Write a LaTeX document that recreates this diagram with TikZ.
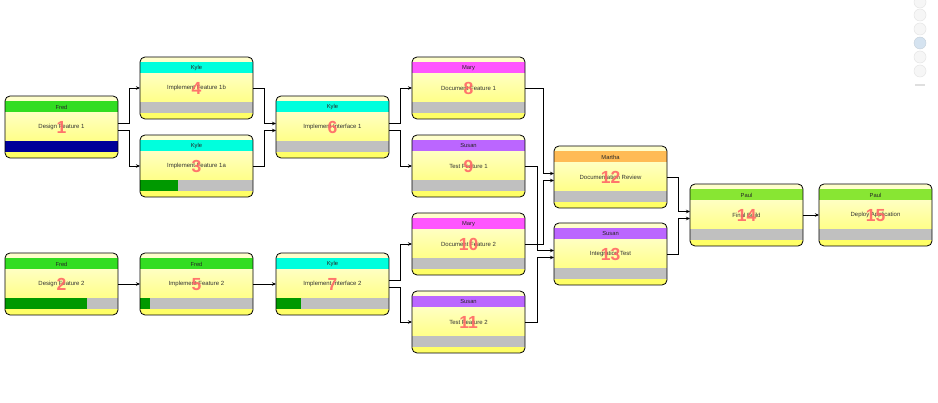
\documentclass[tikz,border=0pt]{standalone}
\usepackage{fontspec}
\setmainfont{Liberation Sans}
\usetikzlibrary{arrows.meta}
\definecolor{fred}{HTML}{33DD22}
\definecolor{kyle}{HTML}{00FFDD}
\definecolor{mary}{HTML}{FF55FF}
\definecolor{susan}{HTML}{BB66FF}
\definecolor{martha}{HTML}{FFBB55}
\definecolor{paul}{HTML}{88E633}
\definecolor{barg}{HTML}{C0C0C0}
\definecolor{proggreen}{HTML}{009900}
\definecolor{progblue}{HTML}{000099}
\definecolor{topyel}{HTML}{FFFFCC}
\definecolor{bodytop}{HTML}{FFFFC0}
\definecolor{bodybot}{HTML}{FFFF88}
\definecolor{botyel}{HTML}{FFFF66}
\definecolor{numred}{HTML}{FF6666}
\definecolor{dotblue}{HTML}{D5E3F0}
\tikzset{
  taskbox/.style={draw=black, line width=0.8pt, rounded corners=5pt, minimum width=113pt,
    minimum height=62pt, inner sep=0pt, outer sep=0pt, anchor=north west},
  conn/.style={draw=black, line width=0.7pt, -{Stealth[length=4pt,width=3.5pt]}},
  who/.style={font=\fontsize{5.8}{6}\selectfont, text=black!85, inner sep=0pt},
  what/.style={font=\fontsize{6}{6}\selectfont, text=black!80, inner sep=0pt},
  num/.style={font=\fontsize{17.5}{18}\selectfont\bfseries, text=numred, inner sep=0pt, opacity=0.9},
  dot/.style={fill=gray!7, draw=gray!20, line width=0.5pt},
  strip/.style={sharp corners},
}
\newcommand\tasknode[9]{%
  \node[taskbox, path picture={
    \fill[strip, topyel] (path picture bounding box.north west) rectangle (path picture bounding box.south east);
    \fill[strip, #4] ([yshift=-5pt]path picture bounding box.north west) rectangle ([yshift=-17pt]path picture bounding box.north east);
    \shade[strip, top color=bodytop, bottom color=bodybot] ([yshift=-17pt]path picture bounding box.north west) rectangle ([yshift=17pt]path picture bounding box.south east);
    \fill[strip, barg] ([yshift=17pt]path picture bounding box.south west) rectangle ([yshift=6pt]path picture bounding box.south east);
    \fill[strip, #9] ([yshift=17pt]path picture bounding box.south west) rectangle ([xshift=#8*113pt, yshift=6pt]path picture bounding box.south west);
    \fill[strip, botyel] ([yshift=6pt]path picture bounding box.south west) rectangle (path picture bounding box.south east);
  }] (#1) at (#2,#3) {};
  \node[who] (#1w) at ([yshift=-11pt]#1.north) {#5};
  \node[what] (#1t) at ([yshift=-31pt]#1.north) {#6};
  \node[num] (#1n) at ([yshift=-31.5pt]#1.north) {#7};
}
\begin{document}
\begin{tikzpicture}[x=1pt, y=-1pt]
\fill[white] (0,0) rectangle (938,403);
\useasboundingbox (0,0) rectangle (938,403);

% top-right widget
\foreach \cy in {2,15,29,57,71} {\filldraw[dot] (920,\cy) circle (6pt);}
\filldraw[fill=dotblue, draw=dotblue!80!gray] (920,43) circle (6pt);
\draw[gray!25, line width=1.5pt] (915,85) -- (925,85);

\tasknode{n1}{5}{96}{fred}{Fred}{Design Feature 1}{1}{1}{progblue}
\tasknode{n2}{5}{253}{fred}{Fred}{Design Feature 2}{2}{0.73}{proggreen}
\tasknode{n4}{140}{57}{kyle}{Kyle}{Implement Feature 1b}{4}{0}{barg}
\tasknode{n3}{140}{135}{kyle}{Kyle}{Implement Feature 1a}{3}{0.34}{proggreen}
\tasknode{n5}{140}{253}{fred}{Fred}{Implement Feature 2}{5}{0.09}{proggreen}
\tasknode{n6}{276}{96}{kyle}{Kyle}{Implement Interface 1}{6}{0}{barg}
\tasknode{n7}{276}{253}{kyle}{Kyle}{Implement Interface 2}{7}{0.22}{proggreen}
\tasknode{n8}{412}{57}{mary}{Mary}{Document Feature 1}{8}{0}{barg}
\tasknode{n9}{412}{135}{susan}{Susan}{Test Feature 1}{9}{0}{barg}
\tasknode{n10}{412}{213}{mary}{Mary}{Document Feature 2}{10}{0}{barg}
\tasknode{n11}{412}{291}{susan}{Susan}{Test Feature 2}{11}{0}{barg}
\tasknode{n12}{554}{146}{martha}{Martha}{Documentation Review}{12}{0}{barg}
\tasknode{n13}{554}{223}{susan}{Susan}{Integration Test}{13}{0}{barg}
\tasknode{n14}{690}{184}{paul}{Paul}{Final Build}{14}{0}{barg}
\tasknode{n15}{819}{184}{paul}{Paul}{Deploy Application}{15}{0}{barg}

% connectors
\draw[conn] ([yshift=3.5pt]n1.east) -- ++(11,0) |- (n4.west);
\draw[conn] ([yshift=-3.5pt]n1.east) -- ++(11,0) |- (n3.west);
\draw[conn] (n4.east) -- ++(11.5,0) |- ([yshift=3.5pt]n6.west);
\draw[conn] (n3.east) -- ++(11.5,0) |- ([yshift=-3.5pt]n6.west);
\draw[conn] ([yshift=3.5pt]n6.east) -- ++(11,0) |- (n8.west);
\draw[conn] ([yshift=-3.5pt]n6.east) -- ++(11,0) |- (n9.west);
\draw[conn] (n2.east) -- (n5.west);
\draw[conn] (n5.east) -- (n7.west);
\draw[conn] ([yshift=3.5pt]n7.east) -- ++(11,0) |- (n10.west);
\draw[conn] ([yshift=-3.5pt]n7.east) -- ++(11,0) |- (n11.west);
\draw[conn] (n8.east) -- ++(18,0) |- ([yshift=3.5pt]n12.west);
\draw[conn] (n10.east) -- ++(18,0) |- ([yshift=-3.5pt]n12.west);
\draw[conn] (n9.east) -- ++(12,0) |- ([yshift=3.5pt]n13.west);
\draw[conn] (n11.east) -- ++(12,0) |- ([yshift=-3.5pt]n13.west);
\draw[conn] (n12.east) -- ++(11,0) |- ([yshift=3.5pt]n14.west);
\draw[conn] (n13.east) -- ++(11,0) |- ([yshift=-3.5pt]n14.west);
\draw[conn] (n14.east) -- (n15.west);
\end{tikzpicture}
\end{document}
